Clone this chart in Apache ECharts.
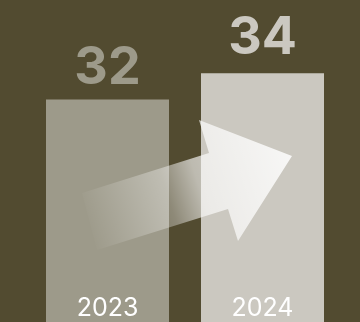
<!DOCTYPE html>
<html>
<head>
<meta charset="utf-8">
<style>
  html, body { margin: 0; padding: 0; background: #524b30; }
  #chart { width: 360px; height: 322px; }
</style>
<script src="https://cdn.jsdelivr.net/npm/echarts@6/dist/echarts.min.js"></script>
</head>
<body>
<div id="chart"></div>
<script>
// Year-over-year comparison
const years = ['2023', '2024'];
const values = [32, 34];
const barColors = ['#9d9a8a', '#cbc8c0'];
const labelGaps = [5, 9];

const chart = echarts.init(document.getElementById('chart'), null, { renderer: 'canvas' });

const FONT = 'Inter, "Liberation Sans", Arial, sans-serif';

chart.setOption({
  backgroundColor: '#524b30',
  animation: false,
  grid: { left: 30, right: 20, top: 0, bottom: 0 },
  xAxis: {
    type: 'category',
    data: years,
    axisLine: { show: false },
    axisTick: { show: false },
    axisLabel: {
      inside: true,
      margin: 1,
      color: '#ffffff',
      fontSize: 25,
      fontFamily: FONT,
      lineHeight: 25
    },
    z: 10
  },
  yAxis: {
    type: 'value',
    min: 15,
    max: 39.6,
    show: false,
    splitLine: { show: false }
  },
  series: [{
    type: 'bar',
    barWidth: 123,
    data: values.map((v, i) => ({
      value: v,
      itemStyle: { color: barColors[i] },
      label: { color: barColors[i], distance: labelGaps[i] }
    })),
    label: {
      show: true,
      position: 'top',
      fontSize: 52,
      fontWeight: 'bold',
      fontFamily: FONT,
      lineHeight: 52
    }
  }],
  graphic: [{
    // rising arrow from the 2023 bar into the 2024 bar
    type: 'polygon',
    z: 100,
    shape: {
      points: [
        [82, 193], [209, 153], [199, 120], [292, 156],
        [238, 241], [228, 209], [97, 250]
      ]
    },
    style: {
      fill: {
        type: 'linear',
        global: true,
        x: 85, y: 222, x2: 292, y2: 156,
        colorStops: [
          { offset: 0, color: 'rgba(255,255,255,0)' },
          { offset: 0.4, color: 'rgba(255,255,255,0.35)' },
          { offset: 0.55, color: 'rgba(255,255,255,0.62)' },
          { offset: 1, color: 'rgba(255,255,255,0.85)' }
        ]
      }
    }
  }]
});
</script>
</body>
</html>
